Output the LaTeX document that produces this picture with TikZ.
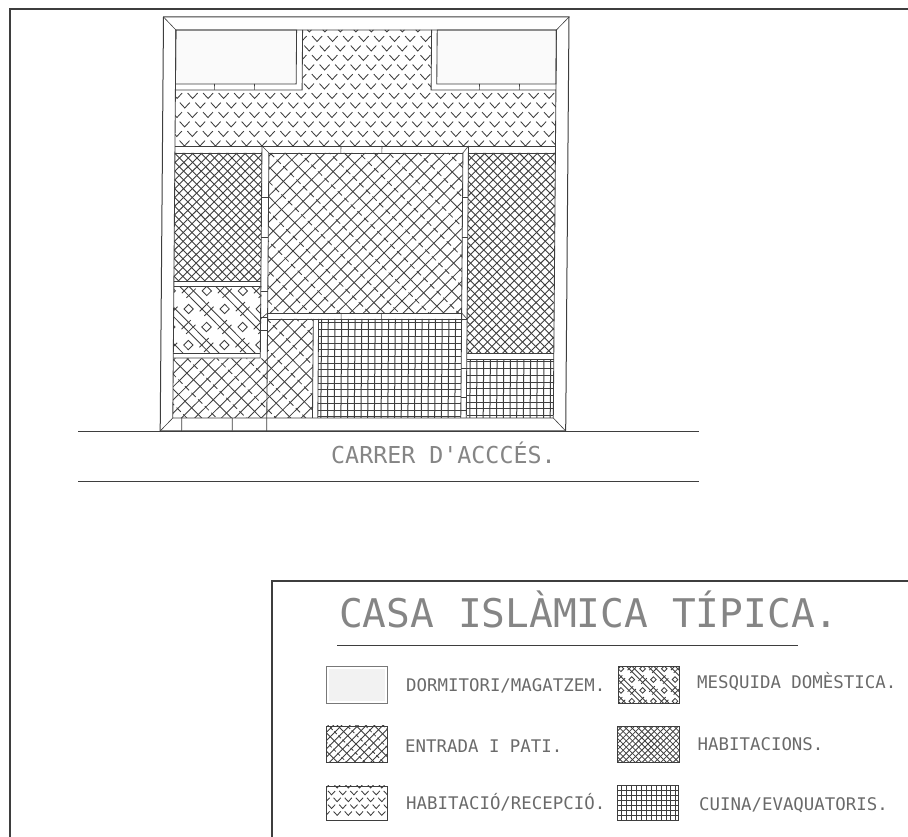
\documentclass[tikz,border=0pt]{standalone}
\usepackage{fontspec}
\newfontfamily\cad{DejaVu Sans Mono}
\definecolor{ink}{HTML}{3E3E3E}
\definecolor{txt}{HTML}{6A6A6A}
\definecolor{txtlight}{HTML}{858585}
\tikzset{
  page/.style={cm={1,0,0,-1,(0,837)}},
  skewed/.style={cm={1,0,-0.008,-1,(0.136,837)}},
  frameline/.style={draw=ink,line width=1.3pt},
  wall/.style={draw=ink,line width=0.85pt},
  thinwall/.style={draw=ink,line width=0.6pt},
  hatchline/.style={draw=ink,line width=0.85pt},
  swatch/.style={draw=ink,line width=0.8pt},
  bigtext/.style={text=txtlight,anchor=base west,inner sep=0pt,font=\cad\fontsize{39.5}{40}\selectfont},
  midtext/.style={text=txtlight,anchor=base west,inner sep=0pt,font=\cad\fontsize{23.3}{24}\selectfont},
  smalltext/.style={text=txt,anchor=base west,inner sep=0pt,font=\cad\fontsize{17.4}{18}\selectfont},
}
% #1 clip, #2 cx, #3 cy, #4 local radius, #5 scale
\newcommand\brickfill[5]{%
  \begin{scope}\clip #1;
  \begin{scope}[shift={(#2,#3)},rotate=-45,scale=#5]
    \pgfmathtruncatemacro\nnv{#4/9.4+1}\pgfmathtruncatemacro\nnu{#4/21+1}
    \foreach \k in {-\nnv,...,\nnv}{\draw[hatchline] ({-#4},{\k*9.4})--({#4},{\k*9.4});}
    \foreach \m in {-\nnu,...,\nnu}{\draw[hatchline] ({\m*21},{-#4})--({\m*21},{#4});}
    \foreach \m in {-\nnu,...,\nnu}{\foreach \k in {-\nnv,...,\nnv}{
      \pgfmathsetmacro\uu{\m*21+10.5}
      \draw[hatchline] (\uu,{\k*9.4-1.5})--(\uu,{\k*9.4+4.5});}}
  \end{scope}\end{scope}}
\newcommand\crossfill[6]{% clip cx cy R pitch width
  \begin{scope}\clip #1;
  \begin{scope}[shift={(#2,#3)},rotate=45]
    \pgfmathtruncatemacro\nnv{#4/#5+1}
    \foreach \k in {-\nnv,...,\nnv}{
      \draw[draw=ink,line width=#6] ({-#4},{\k*#5})--({#4},{\k*#5});
      \draw[draw=ink,line width=#6] ({\k*#5},{-#4})--({\k*#5},{#4});}
  \end{scope}\end{scope}}
\newcommand\gridfill[7]{% x1 y1 x2 y2 x0 y0 pitch
  \begin{scope}\clip (#1,#2) rectangle (#3,#4);
    \pgfmathtruncatemacro\nnx{(#3-#1)/#7+1}\pgfmathtruncatemacro\nny{(#4-#2)/#7+1}
    \foreach \k in {0,...,\nnx}{\draw[draw=ink,line width=1pt] ({#5+\k*#7},#2)--({#5+\k*#7},#4);}
    \foreach \k in {0,...,\nny}{\draw[draw=ink,line width=1pt] (#1,{#6+\k*#7})--(#3,{#6+\k*#7});}
  \end{scope}}
\newcommand\veefill[6]{% clip x1 y1 nx ny s
  \begin{scope}\clip #1;
  \begin{scope}[shift={(#2,#3)},scale=#6]
    \foreach \j in {0,...,#5}{
      \pgfmathsetmacro\off{mod(\j,2)*7.75}
      \foreach \i in {0,...,#4}{
        \draw[hatchline] ({\i*15.5+\off-5},{\j*9.5-5.4})--({\i*15.5+\off},{\j*9.5})--({\i*15.5+\off+5},{\j*9.5-5.4});}}
  \end{scope}\end{scope}}
\newcommand\mosquefill[5]{% clip cx cy R scale
  \begin{scope}\clip #1;
  \begin{scope}[shift={(#2,#3)},rotate=45,scale=#5]
    \pgfmathtruncatemacro\nnv{#4/25.5+1}
    \foreach \k in {-\nnv,...,\nnv}{
      \pgfmathsetmacro\bb{\k*25.5}
      \draw[hatchline] ({-#4},{\bb-3.3})--({#4},{\bb-3.3}) ({-#4},{\bb+3.3})--({#4},{\bb+3.3});
      \foreach \m in {-\nnv,...,\nnv}{
        \pgfmathsetmacro\aa{\m*25.5}
        \draw[hatchline] (\aa-3.3,\bb+9.45) rectangle (\aa+3.3,\bb+16.05);
        \draw[hatchline] (\aa+9.45,\bb-6.5)--(\aa+9.45,\bb+6.5) (\aa+16.05,\bb-6.5)--(\aa+16.05,\bb+6.5);
      }}
  \end{scope}\end{scope}}
\begin{document}
\begin{tikzpicture}[x=1pt,y=1pt]
\useasboundingbox (0,0) rectangle (908,837);
\begin{scope}[page]
  \draw[frameline] (10,837)--(10,9)--(908,9);
  \draw[wall] (78,431)--(699,431);
  \draw[wall] (78,481)--(699,481);
  \node[midtext] (street) at (331,464) {CARRER D'ACCCÉS.};
  % legend
  \draw[frameline] (908,581)--(272,581)--(272,837);
  \node[bigtext] (title) at (339,628) {CASA ISLÀMICA TÍPICA.};
  \draw[wall] (337,645)--(798,645);
  \node[smalltext] (l1) at (406,691.5) {DORMITORI/MAGATZEM.};
  \node[smalltext] (l2) at (405,752.5) {ENTRADA I PATI.};
  \node[smalltext] (l3) at (406,810) {HABITACIÓ/RECEPCIÓ.};
  \node[smalltext] (r1) at (697,689) {MESQUIDA DOMÈSTICA.};
  \node[smalltext] (r2) at (697.5,751) {HABITACIONS.};
  \node[smalltext] (r3) at (699,811) {CUINA/EVAQUATORIS.};
  % swatches
  \fill[black!5] (329,669) rectangle (385,701);
  \brickfill{(326,726) rectangle (387,762.5)}{356}{744}{90}{0.62}
  \veefill{(326,786) rectangle (387,820.5)}{326}{788}{5}{4}{0.72}
  \mosquefill{(618,666.5) rectangle (679,703.5)}{648}{685}{90}{0.6}
  \crossfill{(617.5,726.5) rectangle (679,762.5)}{648}{744}{60}{4.4}{0.8pt}
  \gridfill{617}{786}{678.5}{820.5}{617}{786}{4.9}
  \draw[draw=ink!70,line width=0.6pt] (326,666.5) rectangle (387,703);
  \draw[swatch] (326,726) rectangle (387,762.5);
  \draw[swatch] (326,786) rectangle (387,820.5);
  \draw[swatch] (618,666.5) rectangle (679,703.5);
  \draw[swatch] (617.5,726.5) rectangle (679,762.5);
  \draw[draw=ink,line width=1pt] (617,786) rectangle (678.5,820.5);
\end{scope}
\begin{scope}[skewed]
  % hatches
  \fill[black!2] (176,30) rectangle (296.7,84) (437.3,30) rectangle (556.5,84);
  \veefill{(302.7,30) rectangle (431.7,90) (176,90) rectangle (556.5,146)}{170}{32}{26}{12}{1}
  \crossfill{(176,153) rectangle (263,281)}{220}{215}{110}{6.2}{0.9pt}
  \crossfill{(469.5,153) rectangle (556.5,353)}{512}{250}{160}{6.2}{0.9pt}
  \mosquefill{(176,286.5) rectangle (263.5,353)}{218}{318}{90}{1}
  \brickfill{(270,153) rectangle (464,313)}{366}{233}{190}{1}
  \brickfill{(176,358.5) rectangle (270,418) (270,319) rectangle (315.7,418)}{246}{370}{130}{1}
  \gridfill{321}{319}{464}{418}{324}{323}{6.7}
  \gridfill{470}{359.5}{556.5}{418}{473}{362}{6.7}
  % outer walls with mitred corners
  \draw[wall,line width=1pt] (163.5,17) rectangle (569,431);
  \draw[wall] (176,30) rectangle (556.5,418);
  \draw[thinwall] (163.5,17)--(176,30) (569,17)--(556.5,30) (163.5,431)--(176,418) (569,431)--(556.5,418);
  % upper rooms
  \draw[wall] (176,30) rectangle (296.7,84);
  \draw[wall] (437.3,30) rectangle (556.5,84);
  \draw[wall] (176,90)--(302.7,90)--(302.7,30);
  \draw[wall] (556.5,90)--(431.7,90)--(431.7,30);
  \draw[thinwall] (215,84)--(215,90) (255,84)--(255,90) (480,84)--(480,90) (520,84)--(520,90);
  % central walls
  \draw[wall] (176,146)--(556.5,146);
  \draw[wall] (176,153)--(263,153) (270,153)--(464,153) (469.5,153)--(556.5,153);
  \draw[thinwall] (342,146)--(342,153) (383,146)--(383,153);
  \draw[wall] (263,146)--(263,358) (176,358)--(263,358);
  \draw[wall] (270,153)--(270,431);
  \draw[wall] (464,153)--(464,418) (469.5,146)--(469.5,418);
  \draw[wall] (270,313)--(464,313) (270,319)--(469.5,319);
  \draw[thinwall] (263,146)--(270,153) (469.5,146)--(464,153) (263,319)--(270,313) (469.5,319)--(464,313);
  \draw[thinwall] (263,197)--(270,197) (263,237)--(270,237) (464,197)--(469.5,197) (464,237)--(469.5,237);
  \draw[thinwall] (263,291)--(270,291) (263,317)--(270,317) (263,330)--(270,330);
  \draw[thinwall] (464,368)--(469.5,368) (464,397)--(469.5,397) (464,410)--(469.5,410);
  \draw[thinwall] (343.5,313)--(343.5,319) (384,313)--(384,319);
  % habitacions and mosque
  \draw[wall] (176,281)--(263,281) (176,286.5)--(263,286.5) (176,353)--(263,353);
  \draw[wall] (469.5,353)--(556.5,353) (469.5,359.5)--(556.5,359.5);
  % corridor
  \draw[wall] (315.7,319)--(315.7,418) (321,319)--(321,418);
  \draw[thinwall] (185,418)--(185,431) (235.5,418)--(235.5,431);
\end{scope}
\end{tikzpicture}
\end{document}
